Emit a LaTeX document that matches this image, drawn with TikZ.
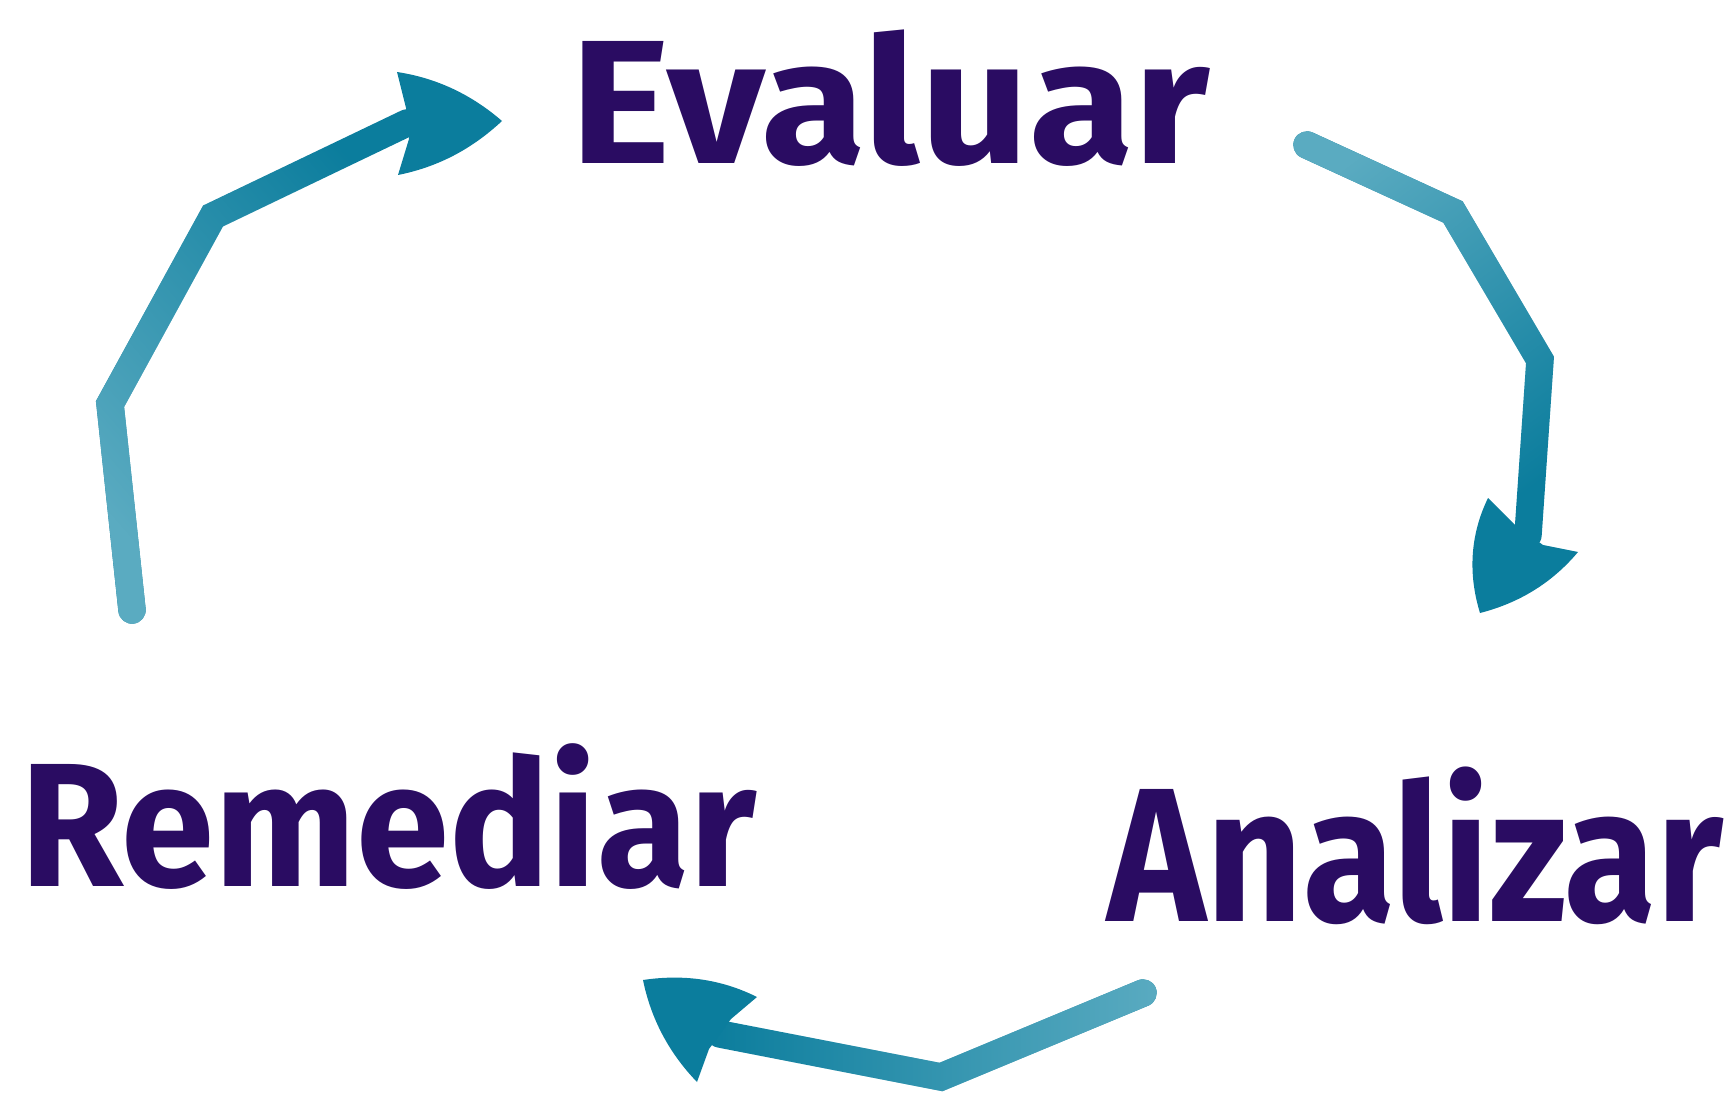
\documentclass[tikz,border=0pt]{standalone}
\usepackage{graphicx}
\usepackage{fontspec}
\usetikzlibrary{fadings}
\newfontfamily\mano{Fira Sans}
\definecolor{tinta}{HTML}{2A0C62}
\definecolor{flechaosc}{HTML}{0B7D9D}
\definecolor{flechacla}{HTML}{5AABC1}
\tikzfading[name=colafade, left color=transparent!0, right color=transparent!100]
\newcommand\palabra[3]{\resizebox{#2}{#3}{\smash{#1}\rule{0pt}{\fontcharht\font`E}}}
\tikzset{
	etapa/.style={anchor=base west, inner sep=0pt, text=tinta, font=\mano\bfseries},
	eje/.style={draw=flechaosc, line width=7.8pt, line cap=round},
	ejecla/.style={draw=flechacla, line width=7.8pt, line cap=round},
	punta/.style={fill=flechaosc},
}

\begin{document}
\begin{tikzpicture}[x=0.01cm, y=-0.01cm]
	\useasboundingbox (0,0) rectangle (1736,1094);
	\node[etapa] (evaluar) at (570,164) {\palabra{Evaluar}{6.39cm}{1.22cm}};
	\node[etapa] (remediar) at (20,886) {\palabra{Remediar}{7.35cm}{1.22cm}};
	\node[etapa] (analizar) at (1107,921) {\palabra{Analizar}{6.15cm}{1.32cm}};
	% remediar -> evaluar
	\coordinate (re0) at (132,610); \coordinate (re1) at (110,404);
	\coordinate (re2) at (213,216); \coordinate (re3) at (407,123);
	\coordinate (ret) at (502,121); \coordinate (reu) at (397,72);
	\coordinate (rep) at (406,108); \coordinate (req) at (409,139);
	\coordinate (rev) at (398,175);
	\draw[eje] (re0) -- (re1) -- (re2) -- (re3);
	\draw[ejecla, path fading=colafade, fading angle=54] (re0) -- (re1) -- (re2) -- (re3);
	\fill[punta] (ret) .. controls (472,95) and (437,78) .. (reu) -- (rep) -- (req) -- (rev)
		.. controls (438,167) and (472,149) .. (ret) -- cycle;
	% evaluar -> analizar
	\coordinate (ev0) at (1307,145); \coordinate (ev1) at (1453,212);
	\coordinate (ev2) at (1540,360); \coordinate (ev3) at (1528,535);
	\coordinate (evt) at (1480,613); \coordinate (evu) at (1488,498);
	\coordinate (evp) at (1514,524); \coordinate (evq) at (1543,545);
	\coordinate (evv) at (1578,552);
	\draw[eje] (ev0) -- (ev1) -- (ev2) -- (ev3);
	\draw[ejecla, path fading=colafade, fading angle=-65] (ev0) -- (ev1) -- (ev2) -- (ev3);
	\fill[punta] (evt) .. controls (1468,574) and (1470,535) .. (evu) -- (evp) -- (evq) -- (evv)
		.. controls (1552,583) and (1519,603) .. (evt) -- cycle;
	% analizar -> remediar
	\coordinate (an0) at (1143,993); \coordinate (an1) at (941,1077);
	\coordinate (an2) at (720,1034);
	\coordinate (ant) at (643,980); \coordinate (anu) at (757,997);
	\coordinate (anp) at (731,1019); \coordinate (anq) at (709,1049);
	\coordinate (anv) at (697,1082);
	\draw[eje] (an0) -- (an1) -- (an2);
	\draw[ejecla, path fading=colafade, fading angle=180] (an0) -- (an1) -- (an2);
	\fill[punta] (ant) .. controls (683,974) and (721,979) .. (anu) -- (anp) -- (anq) -- (anv)
		.. controls (669,1053) and (651,1019) .. (ant) -- cycle;
\end{tikzpicture}
\end{document}
